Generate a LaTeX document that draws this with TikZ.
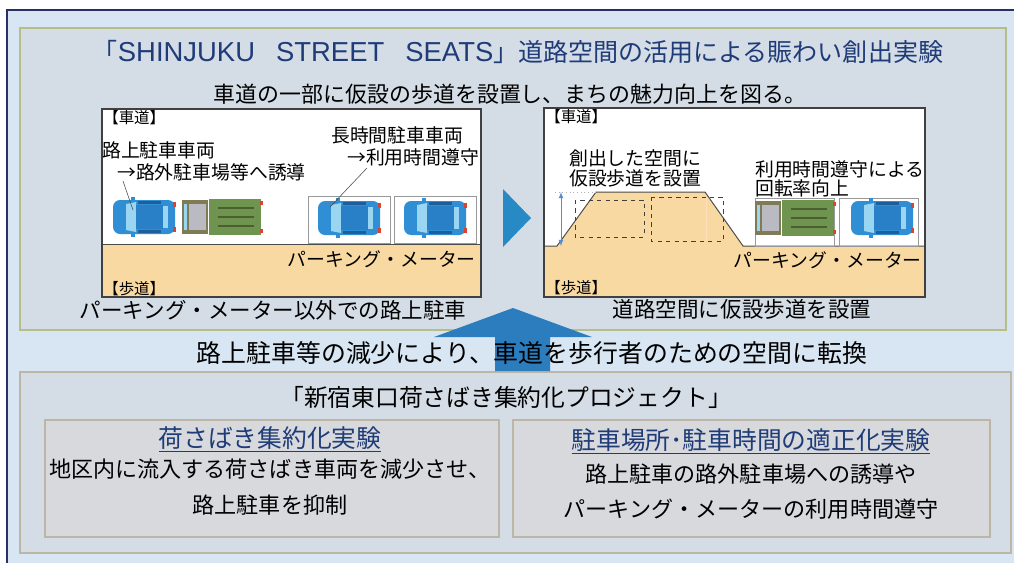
\documentclass[tikz,border=0pt]{standalone}
\usepackage{fontspec}
\setmainfont{Noto Sans CJK JP}
\newfontfamily\latinsans{Liberation Sans}
\usetikzlibrary{arrows.meta}
\tikzset{>=latex}

\definecolor{frameblue}{HTML}{283064}
\definecolor{skyfill}{HTML}{D8E6F3}
\definecolor{panelfill}{HTML}{D4DCE6}
\definecolor{panelline}{HTML}{B6BE88}
\definecolor{boxfill}{HTML}{D7D9DD}
\definecolor{boxline}{HTML}{BDB5A5}
\definecolor{titleblue}{HTML}{1F3C78}
\definecolor{sidewalk}{HTML}{F9D9A2}
\definecolor{arrowblue}{HTML}{2C7DBE}
\definecolor{carblue}{HTML}{2F8ED4}
\definecolor{carroof}{HTML}{2A80C6}
\definecolor{carwin}{HTML}{1D5E9C}
\definecolor{carglass}{HTML}{9AD6F2}
\definecolor{cabolive}{HTML}{7F7B55}
\definecolor{cabgray}{HTML}{BABAC2}
\definecolor{cargo}{HTML}{6F9450}
\definecolor{cargoline}{HTML}{4A5E30}
\definecolor{taillight}{HTML}{D8452E}

\tikzset{
  frame/.style={draw=frameblue, line width=1.4pt, fill=skyfill},
  panel/.style={line width=1.1pt, fill=panelfill},
  subbox/.style={draw=boxline, line width=1pt, fill=boxfill},
  roadbox/.style={draw=black!75, line width=0.8pt},
  bay/.style={draw=gray!80, line width=0.6pt},
  leader/.style={draw=black!70, line width=0.4pt},
  edge/.style={draw=black!70, line width=0.7pt},
  heading/.style={font=\fontsize{17.8}{20}\selectfont, text=titleblue},
  lead/.style={font=\fontsize{15.6}{18}\selectfont},
  caption/.style={font=\fontsize{15.3}{18}\selectfont},
  note/.style={font=\fontsize{13.4}{15}\selectfont, inner sep=0pt},
  tag/.style={font=\fontsize{11}{12}\selectfont, inner sep=0pt},
  body/.style={font=\fontsize{15.7}{18}\selectfont},
  subhead/.style={font=\fontsize{17.6}{20}\selectfont, text=titleblue},
  % top view of a car, front to the left
  pics/car/.style={code={
    \fill[carblue] (-13,-20) rectangle (-9,20);
    \fill[carblue, rounded corners=5pt] (-31,-17) rectangle (31,17);
    \fill[carglass] (-18,-13) -- (-8,-15) -- (-8,15) -- (-18,13) -- cycle;
    \fill[carroof] (-8,-12) rectangle (19,12);
    \fill[carwin] (-6,-16) rectangle (17,-13);
    \fill[carwin] (-6,13) rectangle (17,16);
    \fill[carglass] (19,-11) rectangle (24,11);
    \fill[taillight] (29,-15) rectangle (32,-10);
    \fill[taillight] (29,10) rectangle (32,15);
  }},
  % top view of a small truck, cab to the left
  pics/truck/.style={code={
    \fill[cabolive] (-40,-17) rectangle (-14,17);
    \fill[cabgray] (-33,-13) rectangle (-16,13);
    \fill[carglass] (-38,-13) rectangle (-35,13);
    \fill[cargo] (-13,-18) rectangle (39,18);
    \foreach \y in {-9,0,9}
      \draw[cargoline, line width=1.1pt] (-4,\y) -- (32,\y);
    \fill[taillight] (38,-16) rectangle (41,-12);
    \fill[taillight] (38,12) rectangle (41,16);
  }}
}

\begin{document}
\begin{tikzpicture}[x=0.025cm,y=-0.025cm]
  \useasboundingbox (0,0) rectangle (1014,562);
  \clip (0,0) rectangle (1014,562);

  % Frame and panels
  \draw[frame] (7,10) rectangle (1040,590);
  \draw[panel, draw=panelline] (20,28) rectangle (1006,330);
  \draw[panel, draw=boxline] (20,372) rectangle (1011,553);
  \draw[subbox] (45,420) rectangle (499,537);
  \draw[subbox] (513,420) rectangle (990,537);

  % Headings
  \node[heading] (title) at (518,52) {「{\latinsans\fontsize{19.5}{20}\selectfont SHINJUKU\hspace{15pt}STREET\hspace{15pt}SEATS}」道路空間の活用による賑わい創出実験};
  \node[lead] (aim) at (510,94) {車道の一部に仮設の歩道を設置し、まちの魅力向上を図る。};

  % Before: street with parked vehicles
  \fill[white] (102,109) rectangle (481,244);
  \fill[sidewalk] (102,244) rectangle (481,297);
  \draw[edge] (102,244) -- (481,244);
  \draw[roadbox] (102,109) rectangle (481,297);
  \draw[bay] (308,196) rectangle (390,243);
  \draw[bay] (394,196) rectangle (476,243);
  \pic at (144,217) {car};
  \pic at (222,217) {truck};
  \pic at (349,218) {car};
  \pic at (435,218) {car};
  \node[tag, anchor=north west] (roadA) at (103,110) {【車道】};
  \node[tag, anchor=west] (walkA) at (103,289) {【歩道】};
  \node[note, anchor=west] (onstreet) at (102,150) {路上駐車車両};
  \node[note, anchor=west] (guide) at (117,172) {→路外駐車場等へ誘導};
  \node[note, anchor=west] (longstay) at (331,135) {長時間駐車車両};
  \node[note, anchor=west] (keep) at (347,157) {→利用時間遵守};
  \node[note, anchor=east] (meterA) at (476,259) {パーキング・メーター};
  \coordinate (guideleg) at (123,181);
  \coordinate (carA) at (133,210);
  \coordinate (keepleg) at (367,168);
  \coordinate (carC) at (330,207);
  \draw[leader] (guideleg) -- (carA);
  \draw[leader] (keepleg) -- (carC);
  \node[caption] (before) at (273,310) {パーキング・メーター以外での路上駐車};

  % Step marker
  \fill[arrowblue!90!cyan] (503,189) -- (531,218) -- (503,247) -- cycle;

  % After: temporary sidewalk on the carriageway
  \fill[white] (544,108) rectangle (925,246);
  \fill[sidewalk] (544,246) rectangle (925,297);
  \fill[sidewalk] (557,246) -- (596,192) -- (705,192) -- (743,246) -- cycle;
  \draw[orange!25, line width=0.5pt] (706,197) -- (706,241);
  \draw[edge] (544,246) -- (557,246) -- (596,192) -- (705,192) -- (743,246) -- (925,246);
  \draw[black!75, dashed, line width=0.5pt] (575,200) rectangle (644,237);
  \draw[black!75, dashed, line width=0.5pt] (651,197) rectangle (723,241);
  \coordinate (riseT) at (561,192);
  \coordinate (riseB) at (561,246);
  \draw[gray!60, dotted, line width=0.6pt] (555,192) -- (596,192);
  \draw[<->, color=cyan!50!blue!70, line width=0.5pt] (riseT) -- (riseB);
  \draw[roadbox] (544,108) rectangle (925,297);
  \draw[bay] (755,198) rectangle (834,246);
  \draw[bay] (839,198) rectangle (918,246);
  \pic at (795,218) {truck};
  \pic at (882,218) {car};
  \node[tag, anchor=north west] (roadB) at (545,109) {【車道】};
  \node[tag, anchor=west] (walkB) at (545,288) {【歩道】};
  \node[note, anchor=west] (space) at (569,158) {創出した空間に};
  \node[note, anchor=west] (space2) at (569,178) {仮設歩道を設置};
  \node[note, anchor=west] (turn) at (755,169) {利用時間遵守による};
  \node[note, anchor=west] (turn2) at (755,188) {回転率向上};
  \node[note, anchor=east] (meterB) at (922,260) {パーキング・メーター};
  \node[caption] (after) at (742,309) {道路空間に仮設歩道を設置};

  % Up arrow into the top panel
  \fill[arrowblue] (513,308) -- (592,337) -- (550,337) -- (550,371)
    -- (495,371) -- (495,337) -- (434,337) -- cycle;
  \node[font=\fontsize{17.7}{20}\selectfont] (shift) at (532,353) {路上駐車等の減少により、車道を歩行者のための空間に転換};

  % Loading project
  \node[font=\fontsize{16.9}{19}\selectfont] (project) at (506,397) {「新宿東口荷さばき集約化プロジェクト」};
  \node[subhead] (loadhead) at (270,439) {\underline{荷さばき集約化実験}};
  \node[body] (load1) at (270,469) {地区内に流入する荷さばき車両を減少させ、};
  \node[body] (load2) at (270,505) {路上駐車を抑制};
  \node[subhead] (parkhead) at (751,441) {\underline{駐車場所･駐車時間の適正化実験}};
  \node[body] (park1) at (751,474) {路上駐車の路外駐車場への誘導や};
  \node[body] (park2) at (751,509) {パーキング・メーターの利用時間遵守};
\end{tikzpicture}
\end{document}
